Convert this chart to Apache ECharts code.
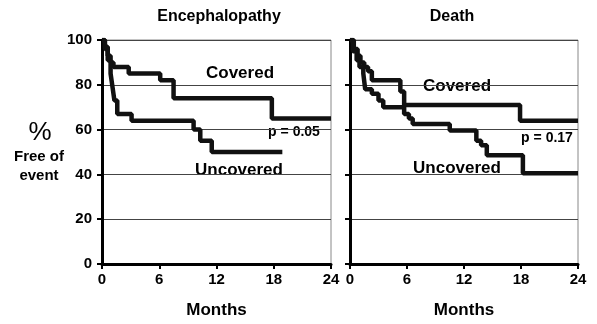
<!DOCTYPE html>
<html>
<head>
<meta charset="utf-8">
<script src="https://cdn.jsdelivr.net/npm/echarts@6/dist/echarts.min.js"></script>
<style>
  html, body { margin: 0; padding: 0; background: #fff; }
  #chart { width: 597px; height: 324px; }
</style>
</head>
<body>
<div id="chart"></div>
<script>
// months / % free of event
var encCovTime = [0, 0.3, 0.6, 0.9, 1.2, 2.8, 6.1, 7.5, 17.8, 24];
var encCovVal  = [100, 97, 93, 90, 88, 85, 82, 74, 65, 65];
var encUncTime = [0, 0.3, 0.6, 0.9, 1.1, 1.3, 1.6, 3.1, 9.6, 10.3, 11.5, 18.9];
var encUncVal  = [100, 96, 91, 85, 79, 73, 67, 64, 60, 55, 50, 50];

var dthCovTime = [0, 0.4, 0.8, 1.1, 1.5, 1.9, 2.3, 5.3, 5.7, 17.9, 24];
var dthCovVal  = [100, 96, 93, 90, 88, 86, 82, 77, 71, 64, 64];
var dthUncTime = [0, 0.3, 0.7, 1.0, 1.4, 1.6, 2.3, 3.0, 3.5, 5.7, 6.2, 6.6, 10.5, 13.3, 13.8, 14.4, 18.2, 24];
var dthUncVal  = [100, 95, 91, 88, 85, 78, 76, 73, 70, 67, 65, 62.5, 59.6, 55, 53, 48.6, 40.5, 40.5];

var font = '"Liberation Sans", Arial, sans-serif';

function pairs(t, v) {
    return t.map(function (x, i) { return [x, v[i]]; });
}

function xAx(idx) {
    return {
        type: 'value', gridIndex: idx, min: 0, max: 24, interval: 6,
        axisLine: { lineStyle: { color: '#000', width: 3 } },
        axisTick: { show: true, length: 5, lineStyle: { color: '#000', width: 2 } },
        axisLabel: { color: '#000', fontFamily: font, fontWeight: 'bold', fontSize: 15, margin: 8 },
        splitLine: { show: false },
        name: 'Months', nameLocation: 'middle', nameGap: 38,
        nameTextStyle: { color: '#000', fontFamily: font, fontWeight: 'bold', fontSize: 17 }
    };
}

function yAx(idx, labels) {
    return {
        type: 'value', gridIndex: idx, min: 0, max: 100, interval: 20,
        axisLine: { show: true, lineStyle: { color: '#000', width: 3 } },
        axisTick: { show: true, length: 5, lineStyle: { color: '#000', width: 2 } },
        axisLabel: { show: labels, color: '#000', fontFamily: font, fontWeight: 'bold', fontSize: 15, margin: 10 },
        splitLine: { show: true, lineStyle: { color: '#444', width: 1 } }
    };
}

function km(name, xi, data) {
    return {
        name: name, type: 'line', step: 'end', xAxisIndex: xi, yAxisIndex: xi,
        data: data, symbol: 'none', animation: false,
        lineStyle: { color: '#111', width: 4.5 }
    };
}

function txt(x, y, s, size, weight) {
    return {
        type: 'text', x: x, y: y,
        style: {
            text: s, fill: '#000', font: weight + ' ' + size + 'px ' + font,
            textAlign: 'center', textVerticalAlign: 'middle'
        }
    };
}

var myChart = echarts.init(document.getElementById('chart'));

var option = {
    backgroundColor: '#fff',
    animation: false,
    grid: [
        { left: 102, top: 40, width: 229, height: 227, show: true, borderColor: '#888', borderWidth: 1 },
        { left: 350, top: 40, width: 228, height: 227, show: true, borderColor: '#888', borderWidth: 1 }
    ],
    xAxis: [xAx(0), xAx(1)],
    yAxis: [yAx(0, true), yAx(1, false)],
    series: [
        km('Covered', 0, pairs(encCovTime, encCovVal)),
        km('Uncovered', 0, pairs(encUncTime, encUncVal)),
        km('Covered', 1, pairs(dthCovTime, dthCovVal)),
        km('Uncovered', 1, pairs(dthUncTime, dthUncVal))
    ],
    graphic: [
        txt(219, 17, 'Encephalopathy', 16, 'bold'),
        txt(452, 17, 'Death', 16, 'bold'),
        txt(40, 133, '%', 26, 'normal'),
        txt(39, 157, 'Free of', 15, 'bold'),
        txt(39, 176, 'event', 15, 'bold'),
        txt(240, 73, 'Covered', 17, 'bold'),
        txt(294, 132, 'p = 0.05', 14, 'bold'),
        txt(239, 170, 'Uncovered', 17, 'bold'),
        txt(457, 86, 'Covered', 17, 'bold'),
        txt(547, 138, 'p = 0.17', 14, 'bold'),
        txt(457, 168, 'Uncovered', 17, 'bold')
    ]
};

myChart.setOption(option);
</script>
</body>
</html>
